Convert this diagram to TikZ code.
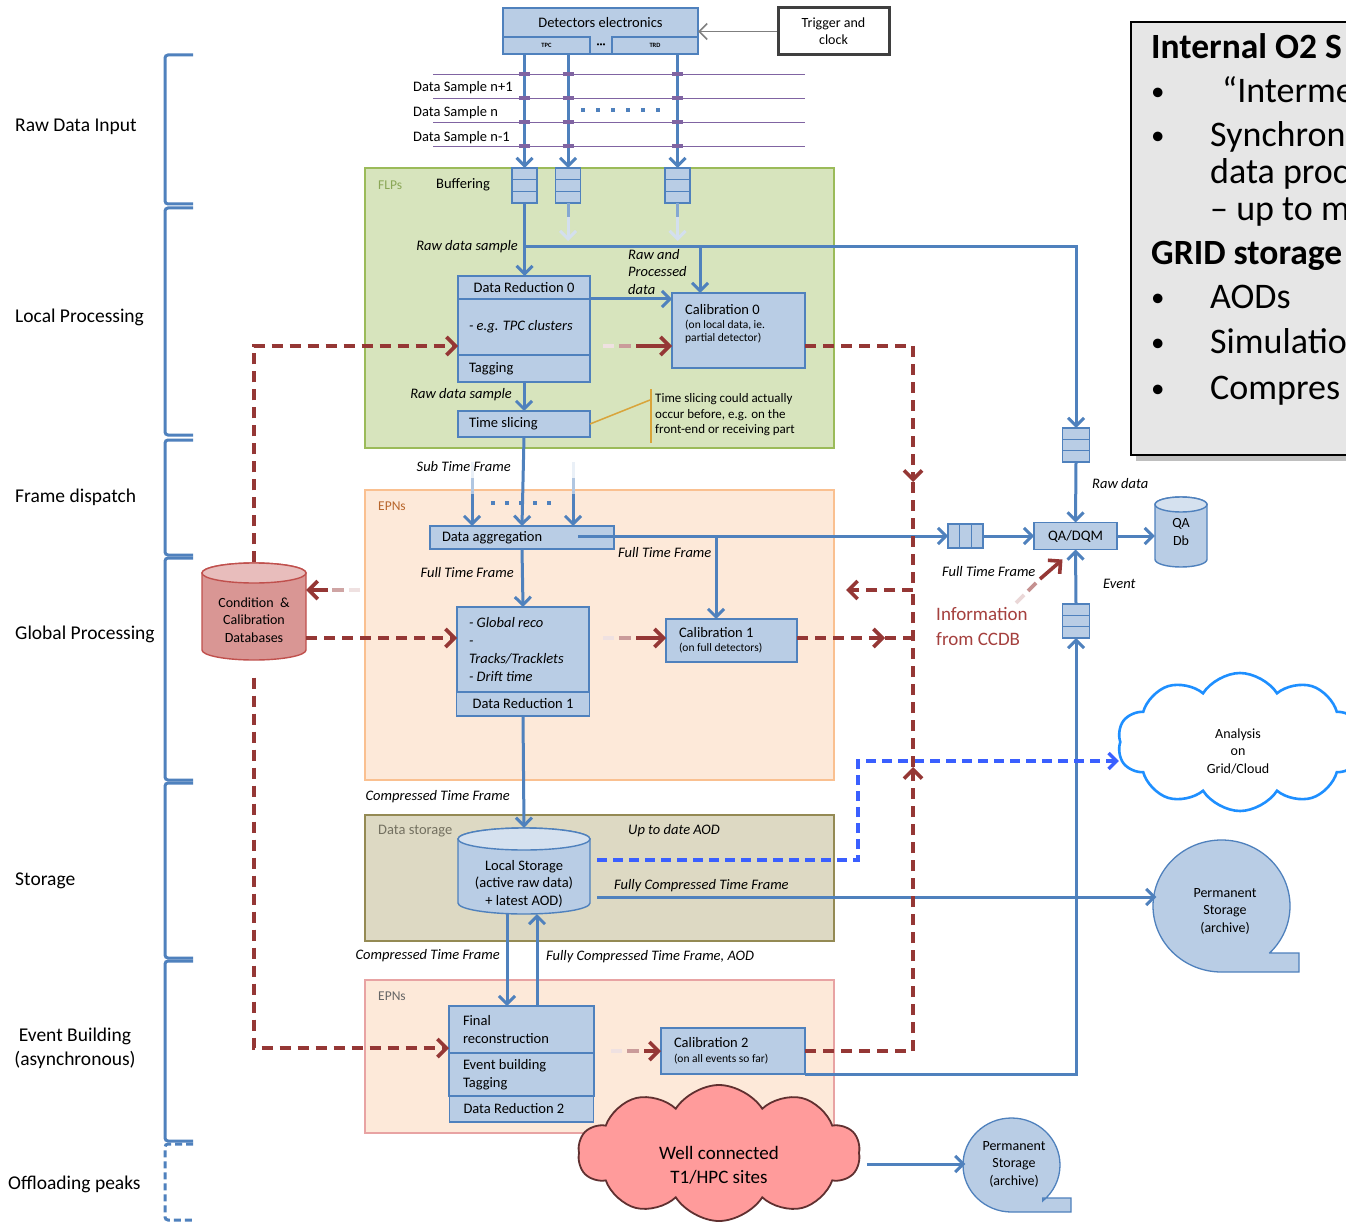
\documentclass[tikz,border=0pt]{standalone}
\usepackage{fontspec}
\setmainfont{Carlito}
\usetikzlibrary{positioning,arrows.meta,shapes.geometric,shapes.symbols,calc}

\definecolor{boxfill}{HTML}{B9CDE5}
\definecolor{boxline}{HTML}{4F81BD}
\definecolor{drumtop}{HTML}{D5E1EF}
\definecolor{flowblue}{HTML}{4F81BD}
\definecolor{calred}{HTML}{953735}
\definecolor{infored}{HTML}{A5403E}
\definecolor{flpfill}{HTML}{D7E4BD}
\definecolor{flpline}{HTML}{9BBB59}
\definecolor{flptext}{HTML}{8AA656}
\definecolor{epnfill}{HTML}{FDE9D9}
\definecolor{epnline}{HTML}{FAC090}
\definecolor{epnline2}{HTML}{E8A3A3}
\definecolor{epntext}{HTML}{B8662C}
\definecolor{dsfill}{HTML}{DDD9C3}
\definecolor{dsline}{HTML}{948A54}
\definecolor{dstext}{HTML}{737060}
\definecolor{samplepurple}{HTML}{8064A2}
\definecolor{ccdbfill}{HTML}{D99694}
\definecolor{ccdbtop}{HTML}{E8BDBC}
\definecolor{ccdbline}{HTML}{C0504D}
\definecolor{gridblue}{HTML}{1E8FFF}
\definecolor{aodblue}{HTML}{3A5FFF}
\definecolor{t1pink}{HTML}{FF9B9B}
\definecolor{t1line}{HTML}{603030}
\definecolor{notegold}{HTML}{D9A43A}
\definecolor{panelgray}{HTML}{E6E6E6}
\definecolor{trigline}{HTML}{3F3F3F}
\definecolor{arrowgray}{HTML}{7F7F7F}

\newcommand{\fsz}[2]{\fontsize{#1}{#2}\selectfont}
% cylinder: cx, y of top ellipse, y of bottom ellipse, rx, ry, body style, top style
\newcommand{\drum}[7]{%
  \path[#6] (#1-#4,#2) -- (#1-#4,#3)
    arc[start angle=180,end angle=0,x radius=#4,y radius=#5]
    -- (#1+#4,#2)
    arc[start angle=0,end angle=-180,x radius=#4,y radius=#5] -- cycle;
  \path[#7] (#1,#2) ellipse[x radius=#4,y radius=#5];}

\tikzset{
  blk/.style={draw=boxline,fill=boxfill,line width=1.4pt,inner sep=0pt,outer sep=0pt,font=\fsz{14.5}{17.5}},
  blkl/.style={blk,text width=#1,align=flush left},
  hbuf/.style={blk,minimum width=25pt,minimum height=35pt,
    path picture={\foreach \f in {0.333,0.667}
      \draw[boxline,line width=1.4pt] ($(path picture bounding box.north west)!\f!(path picture bounding box.south west)$) -- ++(60pt,0);}},
  vbuf/.style={blk,minimum width=35pt,minimum height=24pt,
    path picture={\foreach \f in {0.333,0.667}
      \draw[boxline,line width=1.4pt] ($(path picture bounding box.north west)!\f!(path picture bounding box.north east)$) -- ++(0,-60pt);}},
  flow/.style={draw=flowblue,line width=3pt,-{Straight Barb[length=8pt,width=16pt]}},
  calib/.style={draw=calred,line width=3.6pt,dash pattern=on 11pt off 7pt,
    -{Straight Barb[length=9pt,width=18pt]}},
  calibline/.style={calib,-},
  aod/.style={draw=aodblue,line width=3.4pt,dash pattern=on 10pt off 6pt,
    -{Straight Barb[length=8pt,width=16pt]}},
  brace/.style={draw=flowblue,line width=3pt,rounded corners=3pt},
  area/.style={line width=1.5pt},
  side/.style={anchor=west,inner sep=0pt,font=\fsz{19.5}{24}},
  note/.style={anchor=west,inner sep=0pt,font=\fsz{14.5}{17.5}},
  tag/.style={inner sep=0pt,font=\fsz{14.5}{17.5}\itshape},
  paneltxt/.style={anchor=base west,inner sep=0pt,font=\fsz{36}{40}},
  panelbul/.style={anchor=base west,inner sep=0pt,font=\fsz{27}{30}},
  bubble/.style={draw=boxline,fill=boxfill,line width=1.3pt},
  drumbody/.style={draw=boxline,fill=boxfill,line width=1.4pt},
  drumcap/.style={draw=boxline,fill=drumtop,line width=1.4pt},
}

\begin{document}
\begin{tikzpicture}[x=1pt,y=-1pt]
\useasboundingbox (0,0) rectangle (1346,1222);
\fill[white] (0,0) rectangle (1346,1222);

% phase brackets
\foreach \ya/\yb in {55/204,208/435,440/555,558/780,783/958,961/1141}
  \draw[brace] (193,\ya) -- (165,\ya) -- (165,\yb) -- (193,\yb);
\draw[brace,dash pattern=on 7pt off 4pt] (193,1144) -- (165,1144) -- (165,1220) -- (193,1220);

\node[side] (secraw) at (15,127) {Raw Data Input};
\node[side] (secloc) at (15,317) {Local Processing};
\node[side] (secframe) at (15,497) {Frame dispatch};
\node[side] (secglob) at (15,634) {Global Processing};
\node[side] (secstore) at (15,881) {Storage};
\node[side,anchor=center,align=center] (secevb) at (75,1048) {Event Building\\(asynchronous)};
\node[side] (secoff) at (8,1184) {Offloading peaks};

% processing areas
\draw[area,draw=flpline,fill=flpfill] (365,168) rectangle (834,448);
\draw[area,draw=epnline,fill=epnfill] (365,490) rectangle (834,780);
\draw[area,draw=dsline,fill=dsfill] (365,815) rectangle (834,941);
\draw[area,draw=epnline2,fill=epnfill] (365,980) rectangle (834,1133);
\node[note,text=flptext,font=\fsz{13.5}{16}] (flplbl) at (378,185) {FLPs};
\node[note] (buflbl) at (436,185) {Buffering};
\node[note,text=epntext,font=\fsz{13.5}{16}] (epnlbl) at (378,506) {EPNs};
\node[note,text=dstext] (dslbl) at (378,831) {Data storage};
\node[note,text=black!60,font=\fsz{13.5}{16}] (epnlbl2) at (378,996) {EPNs};

% info panel
\fill[black!25] (1136,28) rectangle (1365,461);
\draw[line width=2pt,fill=panelgray] (1131,22) rectangle (1365,455);
\node[paneltxt,font=\fsz{35.5}{38}\bfseries] (ptitle) at (1151,59) {Internal O2 S};
\node[panelbul] (pb1) at (1151,101) {•};
\node[paneltxt] (pl1) at (1222,103) {“Interme};
\node[panelbul] (pb2) at (1151,145) {•};
\node[paneltxt] (pl2) at (1210,147) {Synchron};
\node[paneltxt] (pl3) at (1210,184) {data proc};
\node[paneltxt] (pl4) at (1210,221) {– up to m};
\node[paneltxt,font=\fsz{35.5}{38}\bfseries] (pgrid) at (1151,265) {GRID storage};
\node[panelbul] (pb3) at (1151,307) {•};
\node[paneltxt] (pl5) at (1210,309) {AODs};
\node[panelbul] (pb4) at (1151,352) {•};
\node[paneltxt] (pl6) at (1210,354) {Simulatio};
\node[panelbul] (pb5) at (1151,397) {•};
\node[paneltxt] (pl7) at (1210,399) {Compres};

% detectors and data samples
\foreach \y in {74,98,122,146}
  \draw[samplepurple,line width=0.9pt] (433,\y) -- (805,\y);
\node[note] (ds1) at (413,88) {Data Sample n+1};
\node[note] (ds2) at (413,113) {Data Sample n};
\node[note] (ds3) at (413,138) {Data Sample n-1};
\foreach \x in {583,598,...,658}
  \fill[flowblue] (\x-1.6,108.4) rectangle ++(3.2,3.2);

\node[blk,minimum width=195pt,minimum height=46pt] (det) at (600.5,31) {};
\node[inner sep=0pt,font=\fsz{14.5}{17.5}] (detlbl) at (600.5,23) {Detectors electronics};
\node[blk,minimum width=87pt,minimum height=17pt,font=\fsz{6.5}{8}\bfseries] (tpc) at (546.5,45.5) {TPC};
\node[blk,minimum width=86pt,minimum height=17pt,font=\fsz{6.5}{8}\bfseries] (trd) at (655,45.5) {TRD};
\node[inner sep=0pt,font=\fsz{6}{8}] (detdots) at (601,45) {•••};
\node[draw=trigline,line width=3pt,fill=white,minimum width=111pt,minimum height=47pt,
  inner sep=0pt,align=center,font=\fsz{14}{17}] (trig) at (833.5,31.5) {Trigger and\\clock};
\draw[arrowgray,line width=1.6pt,-{Straight Barb[length=8pt,width=16pt]}] (trig.west) -- (trig.west -| det.east);

% FLP buffers
\node[hbuf] (buf1) at (524.5,185.5) {};
\node[hbuf] (buf2) at (568,185.5) {};
\node[hbuf] (buf3) at (677.5,185.5) {};
\foreach \b in {buf1,buf2,buf3}
  \draw[flow] (\b |- det.south) -- (\b.north);
\foreach \x in {524.5,568,677.5}
  \foreach \y in {74,98,122,146}
    \draw[samplepurple,line width=4.5pt] (\x-5.5,\y) -- (\x+5.5,\y);
\foreach \b in {buf2,buf3} {
  \draw[flowblue!70,line width=3pt] (\b.south) -- ++(0,14);
  \draw[flow,draw=flowblue!25] ([yshift=-14pt]\b.south) -- ++(0,24);
}

% local processing
\node[blk,minimum width=132pt,minimum height=23pt] (dr0) at (524,287.5) {Data Reduction 0};
\node[blkl=110pt,minimum width=132pt,minimum height=56pt,font=\fsz{14.5}{17.5}\itshape,below=0pt of dr0] (dr0b) {- e.g. TPC clusters};
\node[blkl=110pt,minimum width=132pt,minimum height=27pt,below=0pt of dr0b] (dr0c) {Tagging};
\node[blkl=110pt,minimum width=132pt,minimum height=26pt] (ts) at (524,424) {Time slicing};
\node[blk,minimum width=133pt,minimum height=75pt] (cal0) at (738.5,330.5) {};
\node[anchor=north west,inner sep=0pt,align=flush left,font=\fsz{14.5}{13}] (cal0lbl) at (685,304)
  {Calibration 0\\[1.5pt]{\fsz{11.5}{13}(on local data, ie.}\\{\fsz{11.5}{13}partial detector)}};

\coordinate (rawtap) at (524.5,247);
\coordinate (rawcal) at (700,247);
\node[hbuf,minimum width=27pt,minimum height=34pt] (qbufA) at (1076,445) {};
\draw[flow] (buf1.south) -- (buf1.south |- dr0.north);
\draw[flow] (rawtap) -| (qbufA.north);
\draw[flow] (rawcal) -- (rawcal |- cal0.north);
\draw[flow] (dr0.south east) -- (dr0.south east -| cal0.west);
\draw[flow] (dr0c.south) -- (ts.north);
\node[tag,anchor=east] (rawlbl) at (518,247) {Raw data sample};
\node[tag,anchor=east] (rawlbl2) at (512,395) {Raw data sample};
\node[tag,anchor=north west,align=left] (rawproc) at (628,249) {Raw and\\Processed\\data};

\draw[notegold,line width=1.5pt] (ts.east) -- (650,400);
\draw[notegold,line width=1.5pt] (651,389) -- (651,443);
\node[anchor=west,inner sep=0pt,align=left,font=\fsz{13}{15.5}] (slicenote) at (655,415)
  {Time slicing could actually\\occur before, e.g. on the\\front-end or receiving part};

% frame dispatch and global processing
\node[blkl=160pt,minimum width=184pt,minimum height=23pt] (agg) at (522,537.5) {Data aggregation};
\draw[flow] (ts.south) -- (agg.north);
\foreach \x in {472,573} {
  \draw[flowblue!12,line width=3pt] (\x,462) -- (\x,478);
  \draw[flowblue!45,line width=3pt] (\x,478) -- (\x,494);
  \draw[flow] (\x,494) -- (\x,0 |- agg.north);
}
\foreach \x in {493,507,...,549}
  \fill[flowblue] (\x-1.6,501.4) rectangle ++(3.2,3.2);
\node[tag,anchor=east] (stflbl) at (511,467) {Sub Time Frame};

\node[blkl=108pt,minimum width=132pt,minimum height=85pt,font=\fsz{14.5}{17.7}\itshape] (grec) at (523,649.5)
  {- Global reco\\-\\Tracks/Tracklets\\- Drift time};
\node[blk,minimum width=133pt,minimum height=24pt,below=0pt of grec] (dr1) {Data Reduction 1};
\node[blkl=105pt,minimum width=131pt,minimum height=43pt,font=\fsz{14.5}{12.5}] (cal1) at (731.5,640.5)
  {Calibration 1\\[2pt]\fsz{11.5}{12.5}(on full detectors)};
\draw[flow] (agg.south) -- (grec.north);
\node[tag,anchor=east] (ftflbl) at (514,573) {Full Time Frame};

% QA
\node[blk,minimum width=83pt,minimum height=27pt] (qa) at (1075.5,536) {QA/DQM};
\node[vbuf] (qbufC) at (965.5,536) {};
\node[hbuf,minimum width=27pt,minimum height=34pt] (qbufB) at (1076,621) {};
\drum{1181}{504.5}{559.5}{26}{7.5}{drumbody}{drumcap}
\node[minimum width=52pt,minimum height=70pt,inner sep=0pt,align=center,font=\fsz{14}{17.5}] (qadb) at (1181,532) {QA\\Db};
\coordinate (aggtap) at (578,536);
\coordinate (aggcal) at (716,536);
\draw[flow] (aggtap) -- (qbufC.west);
\draw[flow] (aggcal) -- (aggcal |- cal1.north);
\draw[flow] (qbufC.east) -- (qa.west);
\draw[flow] (qbufA.south) -- (qa.north);
\draw[flow] (qbufB.north) -- (qa.south);
\draw[flow] (qa.east) -- (qadb.west |- qa.east);
\node[tag,anchor=west] (ftflbl2) at (618,553) {Full Time Frame};
\node[tag,anchor=west] (ftflbl3) at (942,572) {Full Time Frame};
\node[tag,anchor=west] (rawlbl3) at (1092,484) {Raw data};
\node[tag,anchor=west] (evtlbl) at (1103,584) {Event};

% storage
\drum{524}{839}{903}{66}{11}{drumbody}{drumcap}
\node[minimum width=132pt,minimum height=86pt,inner sep=0pt] (lstore) at (524,871) {};
\node[inner sep=0pt,align=center,font=\fsz{14.5}{17.5}] (lstorelbl) at (524,883.5)
  {Local Storage\\(active raw data)\\+ latest AOD)};
\draw[flow] (dr1.south) -- (lstore.north);
\node[tag,anchor=east] (ctflbl) at (510,797) {Compressed Time Frame};
\node[tag,anchor=west] (aodlbl) at (628,831) {Up to date AOD};
\node[tag,anchor=west] (fctlbl) at (614,886) {Fully Compressed Time Frame};

% event building
\node[blkl=117pt,minimum width=145pt,minimum height=47pt] (fin) at (521.5,1029.5) {Final\\reconstruction};
\node[blkl=117pt,minimum width=145pt,minimum height=43pt,below=0pt of fin] (evb) {Event building\\Tagging};
\node[blkl=116pt,minimum width=144pt,minimum height=26pt,below=0pt of evb] (dr2) {Data Reduction 2};
\node[blkl=118pt,minimum width=144pt,minimum height=46pt,font=\fsz{14.5}{12.5}] (cal2) at (733,1051)
  {Calibration 2\\[2pt]\fsz{11.5}{12.5}(on all events so far)};
\draw[flow] (507,0 |- lstore.south) -- (507,0 |- fin.north);
\draw[flow] (537,0 |- fin.north) -- (537,914);
\draw[flow] (cal2.south east) -| (qbufB.south);
\node[tag,anchor=east] (ctflbl2) at (500,956) {Compressed Time Frame};
\node[tag,anchor=west] (fctlbl2) at (546,957) {Fully Compressed Time Frame, AOD};

% outputs
\path[bubble] (1269.6,953) -- (1299,953) -- (1299,972) -- (1221.5,972)
  arc[start angle=90,end angle=405.4,x radius=68.5,y radius=66] -- cycle;
\node[ellipse,minimum width=137pt,minimum height=132pt,inner sep=0pt,align=center,font=\fsz{14}{17.5}] (perm1) at (1225,911)
  {Permanent\\Storage\\(archive)};
\path[bubble] (1042.7,1198) -- (1071,1198) -- (1071,1212) -- (1011.5,1212)
  arc[start angle=90,end angle=410,x radius=48.5,y radius=47] -- cycle;
\node[ellipse,minimum width=97pt,minimum height=94pt,inner sep=0pt,align=center,font=\fsz{14}{17.5}] (perm2) at (1014,1164)
  {Permanent\\Storage\\(archive)};
\node[cloud,cloud puffs=10,cloud puff arc=115,aspect=1.8,draw=gridblue,fill=white,line width=2.6pt,
  minimum width=245pt,minimum height=138pt] (grid) at (1240,742) {};
\node[inner sep=0pt,align=center,font=\fsz{14}{17.5}] (gridlbl) at (1238,751) {Analysis\\on\\Grid/Cloud};
\node[cloud,cloud puffs=10,cloud puff arc=115,aspect=2,draw=t1line,fill=t1pink,line width=1.8pt,
  minimum width=282pt,minimum height=136pt] (t1) at (719,1153) {};
\node[inner sep=0pt,align=center,font=\fsz{19}{24}] (t1lbl) at (719,1165) {Well connected\\T1/HPC sites};
\coordinate (aodout) at (597,860);
\coordinate (fctout) at (597,897);
\draw[aod] (aodout) -- (858,860) -- (858,761) -- (grid.west |- 0,761);
\draw[flow] (fctout) -- (fctout -| perm1.west);
\draw[flow] ([xshift=7pt]t1.east |- perm2.west) -- (perm2.west);

% calibration feedback
\drum{254}{573}{650}{52}{10}{draw=ccdbline,fill=ccdbfill,line width=1.4pt}{draw=ccdbline,fill=ccdbtop,line width=1.4pt}
\node[minimum width=104pt,minimum height=98pt,inner sep=0pt] (ccdb) at (254,611.5) {};
\node[inner sep=0pt,align=center,font=\fsz{14}{17.5}] (ccdblbl) at (254,620) {Condition~~\&\\Calibration\\Databases};
\coordinate (busN) at (913,346);
\coordinate (busMid) at (913,590);
\coordinate (busS) at (913,1051);
\draw[calib] (ccdb.north) |- (dr0b.west |- 0,346);
\draw[calib] (ccdb.east |- 0,638) -- (grec.west |- 0,638);
\draw[calib] ([yshift=-17pt]ccdb.south) |- (fin.west |- 0,1048);
\foreach \xa/\ya/\tg in {603/346/cal0,603/638/cal1,611/1051/cal2} {
  \draw[calred!15,line width=3.6pt] (\xa,\ya) -- ++(11,0);
  \draw[calred!50,line width=3.6pt] (\xa+16,\ya) -- ++(12,0);
  \draw[calib,solid] (\xa+33,\ya) -- (\tg.west |- 0,\ya);
}
\draw[calib] (cal0.east |- busN) -- (busN) -- (913,482);
\draw[calibline] (913,482) -- (busMid);
\draw[calib] (cal2.east |- busS) -- (busS) -- (913,767);
\draw[calibline] (913,767) -- (busMid);
\draw[calib] (cal1.east |- 0,638) -- (885,638);
\draw[calibline] (885,638) -- (913,638);
\draw[calib] (busMid) -- (846,590);
\draw[calred!15,line width=3.6pt] (360,590) -- (349,590);
\draw[calred!45,line width=3.6pt] (344,590) -- (332,590);
\draw[calib,solid] (328,590) -- (ccdb.east |- 0,590);
\draw[calred!20,line width=3.6pt] (1016,603) -- (1024,595);
\draw[calred!55,line width=3.6pt] (1028,591) -- (1036,583);
\draw[calib,solid] (1040,579) -- ($(qa.south)+(-13,10)$);
\node[anchor=west,inner sep=0pt,align=left,text=infored,font=\fsz{19}{25}] (ccdbinfo) at (936,626)
  {Information\\from CCDB};
\end{tikzpicture}
\end{document}
